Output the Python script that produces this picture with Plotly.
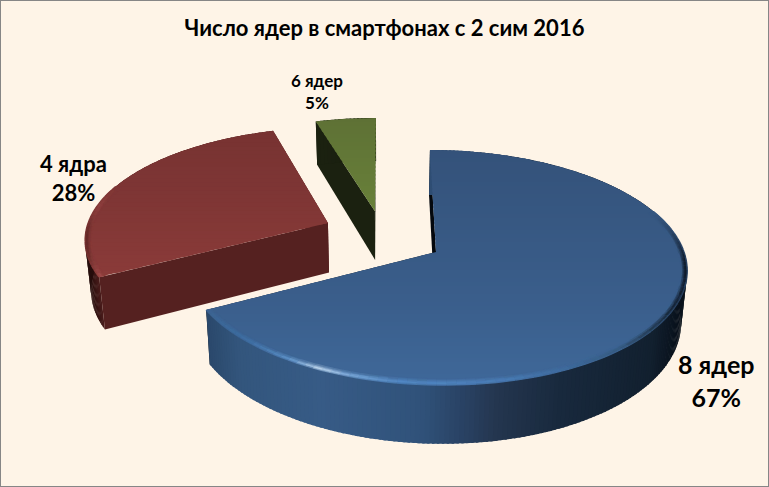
import math
from collections import defaultdict
import plotly.graph_objects as go

# --- data ---
categories = ["8 ядер", "4 ядра", "6 ядер"]
shares = [67.2, 28.2, 4.6]
chart_title = "Число ядер в смартфонах с 2 сим 2016"

# --- perspective camera and layout ---
W, H = 769, 487
VX, VY = 384.0, -623.0
PLANE = 875.0
DEPTH = 51.0
K = 0.132
R = 248.0
Q = 0.98
BG = "#FEF4E7"
# exploded offset of each slice's apex (px across, radii toward viewer)
OFFSET = {"8 ядер": (52.0, 0.0), "4 ядра": (-58.0, -0.259), "6 ядер": (-9.5, -0.37)}


def hexrgb(c):
    return tuple(int(c[i:i + 2], 16) for i in (1, 3, 5))


def ramp(stops, t):
    if t <= stops[0][0]:
        return hexrgb(stops[0][1])
    for (a, ca), (b, cb) in zip(stops, stops[1:]):
        if t <= b:
            f = (t - a) / (b - a)
            x, y = hexrgb(ca), hexrgb(cb)
            return tuple(x[i] + (y[i] - x[i]) * f for i in range(3))
    return hexrgb(stops[-1][1])


def mix(a, b, f):
    return tuple(a[i] + (b[i] - a[i]) * f for i in range(3))


STYLE = {
    "8 ядер": dict(
        top=[(150, "#34527A"), (300, "#3A5E8B"), (385, "#3F6899")],
        wall=[(205, "#2A476A"), (240, "#33567D"), (320, "#375B86"), (420, "#30527A"),
              (470, "#283F5F"), (495, "#24364F"), (560, "#18293D"), (650, "#12202F"), (680, "#08101A")],
        rim=[(205, "#3A6390"), (250, "#3F70A6"), (290, "#5D92C9"), (320, "#C8DEF3"), (350, "#79A8DA"),
             (400, "#5288C4"), (500, "#4A7DB8"), (560, "#3F6C9F"), (620, "#35597F"), (650, "#22384F"),
             (685, "#0E1826")],
        cut="#04080E",
    ),
    "4 ядра": dict(
        top=[(134, "#783332"), (200, "#7F3635"), (280, "#8B3B39")],
        wall=[(85, "#1A0807"), (92, "#2C0F0E"), (103, "#4E1E1D"), (330, "#542120")],
        rim=[(85, "#5A2221"), (100, "#A04C4A"), (170, "#8D3D3B"), (330, "#8B3B39")],
        cut="#552120",
    ),
    "6 ядер": dict(
        top=[(118, "#5E7135"), (207, "#688039")],
        wall=[(310, "#1C2211"), (380, "#171C0D")],
        rim=[(310, "#5E7135"), (380, "#688039")],
        cut="#1B2110",
    ),
}


def project(X, Z, lower=False):
    s = 1.0 / (1.0 - K * Z)
    if lower:
        return VX + X * s * Q, VY + (PLANE + DEPTH) * s
    return VX + X * s, VY + PLANE * s


def point(name, theta, r, lower=False):
    ox, oz = OFFSET[name]
    a = math.radians(theta)
    return project(ox + R * r * math.sin(a), oz - r * math.cos(a), lower)


def css(c):
    return "rgb(%d,%d,%d)" % tuple(round(v) for v in c)


def add_poly(fig, poly, col, name):
    fig.add_trace(go.Scatter(x=[p[0] for p in poly] + [poly[0][0]], y=[p[1] for p in poly] + [poly[0][1]],
                             mode="lines", fill="toself", fillcolor=col, line=dict(width=0),
                             hoverinfo="skip", showlegend=False, name=name))


def clip_band(poly, y0, y1):
    def clip(pts, keep, cross):
        out = []
        for i, p in enumerate(pts):
            q = pts[(i + 1) % len(pts)]
            if keep(p):
                out.append(p)
            if keep(p) != keep(q):
                t = (cross - p[1]) / (q[1] - p[1])
                out.append((p[0] + (q[0] - p[0]) * t, cross))
        return out
    pts = clip(poly, lambda p: p[1] >= y0, y0)
    return clip(pts, lambda p: p[1] <= y1, y1) if pts else []


def add_slice(fig, name, start, end):
    st = STYLE[name]
    # flat cut faces
    for th in (end, start):
        add_poly(fig, [point(name, th, 0), point(name, th, 1),
                       point(name, th, 1, True), point(name, th, 0, True)], st["cut"], name)

    # outer curved wall, painted edge to edge with a small overlap
    n = max(6, int((end - start) / 1.0))
    ths = [start + (end - start) * i / n for i in range(n + 1)]
    step = (end - start) / n
    for a in ths[:-1]:
        b = min(end, a + step * 1.5)
        q = [point(name, a, 1), point(name, b, 1), point(name, b, 1, True), point(name, a, 1, True)]
        xm = sum(p[0] for p in q) / 4
        add_poly(fig, q, css(ramp(st["wall"], xm)), name)

    # upper surface in horizontal shading bands, each overlapped by the next
    outline = [point(name, start, 0)]
    outline += [point(name, t, 1) for t in ths]
    y_lo, y_hi = min(p[1] for p in outline), max(p[1] for p in outline)
    y = y_lo
    while y < y_hi:
        band = clip_band(outline, y, y + 6)
        if len(band) > 2:
            add_poly(fig, band, css(ramp(st["top"], y + 2)), name)
        y += 4

    # bevelled rim as fine strokes, of nearly constant on-screen width
    groups = defaultdict(list)
    m = max(4, int((end - start) / 2.0))
    tt = [start + (end - start) * i / m for i in range(m + 1)]
    for a, b in zip(tt, tt[1:]):
        th = (a + b) / 2
        front = min(1.0, max(0.0, (-math.cos(math.radians(th)) + .35) / .4))
        if front <= 0:
            continue
        e0, e1 = point(name, th, 1), point(name, th, .9)
        per_r = math.hypot(e0[0] - e1[0], e0[1] - e1[1]) / .1
        for i in range(8):
            t = i / 7
            r = 1 - (6.0 / per_r) * t
            p0, p1 = point(name, a, r), point(name, b, r)
            base = ramp(st["top"], (p0[1] + p1[1]) / 2)
            f = max(0.0, 1 - abs(t - .3) / (.7 if t > .3 else .5)) * front
            c = mix(base, ramp(st["rim"], (p0[0] + p1[0]) / 2), f)
            key = "rgb(%d,%d,%d)" % tuple(round(v / 3) * 3 for v in c)
            groups[key] += [p0, p1, (None, None)]
    for col, pts in groups.items():
        fig.add_trace(go.Scatter(x=[p[0] for p in pts], y=[p[1] for p in pts], mode="lines",
                                 line=dict(color=col, width=1.4), hoverinfo="skip",
                                 showlegend=False, name=name))


fig = go.Figure()
angles = []
acc = 0.0
for v in shares:
    angles.append((acc * 3.6, (acc + v) * 3.6))
    acc += v

# paint far slices first
for i in (2, 1, 0):
    add_slice(fig, categories[i], *angles[i])

LABEL = {
    "8 ядер": (716, 380, 25),
    "4 ядра": (73, 178, 22),
    "6 ядер": (317, 91, 17),
}
notes = []
for name, v in zip(categories, shares):
    x, y, size = LABEL[name]
    notes.append(dict(x=x, y=y, xref="x", yref="y", text=f"<b>{name}<br>{round(v)}%</b>", showarrow=False,
                      align="center", font=dict(family="Lato", size=size, color="black")))

fig.update_layout(
    width=W, height=H, margin=dict(l=0, r=0, t=0, b=0),
    paper_bgcolor=BG, plot_bgcolor=BG, showlegend=False,
    title=dict(text=f"<b>{chart_title}</b>", x=0.5, xanchor="center", y=0.942, yanchor="middle",
               font=dict(family="Lato", size=22, color="black")),
    xaxis=dict(range=[0, W], visible=False, fixedrange=True),
    yaxis=dict(range=[H, 0], visible=False, fixedrange=True),
    annotations=notes,
    shapes=[dict(type="rect", xref="paper", yref="paper", x0=0, y0=0, x1=1, y1=1,
                 line=dict(color="#868686", width=2), layer="above")],
)
fig.write_html("out.html", config={"displayModeBar": False},
               post_script="document.body.style.margin='0';document.documentElement.style.background='#FEF4E7';")
